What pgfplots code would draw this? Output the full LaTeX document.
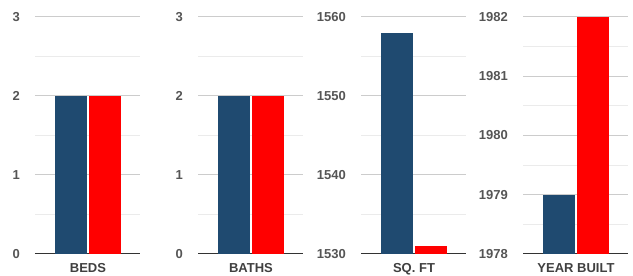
\documentclass[border=0pt]{standalone}
\usepackage{fontspec}
\setmainfont{Liberation Sans}
\usepackage{pgfplots}
\pgfplotsset{compat=1.18}
\definecolor{barblue}{HTML}{1F4A70}
\definecolor{barred}{HTML}{FF0000}
\definecolor{tickgray}{HTML}{555555}
\definecolor{labgray}{HTML}{404040}
\definecolor{majgrid}{HTML}{CCCCCC}
\definecolor{mingrid}{HTML}{EBEBEB}
\definecolor{basegray}{HTML}{333333}
\pgfplotsset{
  panel/.style={
    scale only axis, width=105pt, height=237pt,
    at={(#1,22pt)}, anchor=south west,
    xmin=0, xmax=105,
    ybar=2pt, bar width=32pt,
    axis x line*=bottom, axis y line*=left,
    x axis line style={draw=basegray, line width=1pt, -},
    y axis line style={draw=none},
    major tick length=0pt, minor tick length=0pt,
    xtick={53},
    ymajorgrids, yminorgrids,
    major grid style={draw=majgrid, line width=1pt},
    minor grid style={draw=mingrid, line width=1pt},
    /pgf/number format/assume math mode=true,
    /pgf/number format/1000 sep={},
    yticklabel style={font=\fontsize{13}{15}\selectfont\bfseries, text=tickgray, anchor=east, inner sep=0pt, xshift=-15pt},
    xticklabel style={font=\fontsize{13}{15}\selectfont\bfseries, text=labgray, anchor=north, inner sep=0pt, yshift=-9pt},
  }
}
\begin{document}
\begin{tikzpicture}
\path[use as bounding box] (0,0) rectangle (633pt,276pt);
\begin{axis}[panel=35pt, ymin=0, ymax=3, ytick={0,1,2,3}, minor ytick={0.5,1.5,2.5}, xticklabels={BEDS}]
\addplot[fill=barblue, draw=none] coordinates {(53,2)};
\addplot[fill=barred, draw=none] coordinates {(53,2)};
\end{axis}
\begin{axis}[panel=198pt, ymin=0, ymax=3, ytick={0,1,2,3}, minor ytick={0.5,1.5,2.5}, xticklabels={BATHS}]
\addplot[fill=barblue, draw=none] coordinates {(53,2)};
\addplot[fill=barred, draw=none] coordinates {(53,2)};
\end{axis}
\begin{axis}[panel=361pt, ymin=1530, ymax=1560, ytick={1530,1540,1550,1560}, minor ytick={1535,1545,1555}, xticklabels={SQ. FT}]
\addplot[fill=barblue, draw=none] coordinates {(53,1558)};
\addplot[fill=barred, draw=none] coordinates {(53,1531)};
\end{axis}
\begin{axis}[panel=523pt, ymin=1978, ymax=1982, ytick={1978,1979,1980,1981,1982}, minor ytick={1978.5,1979.5,1980.5,1981.5}, xticklabels={YEAR BUILT}]
\addplot[fill=barblue, draw=none] coordinates {(53,1979)};
\addplot[fill=barred, draw=none] coordinates {(53,1982)};
\end{axis}
\end{tikzpicture}
\end{document}
